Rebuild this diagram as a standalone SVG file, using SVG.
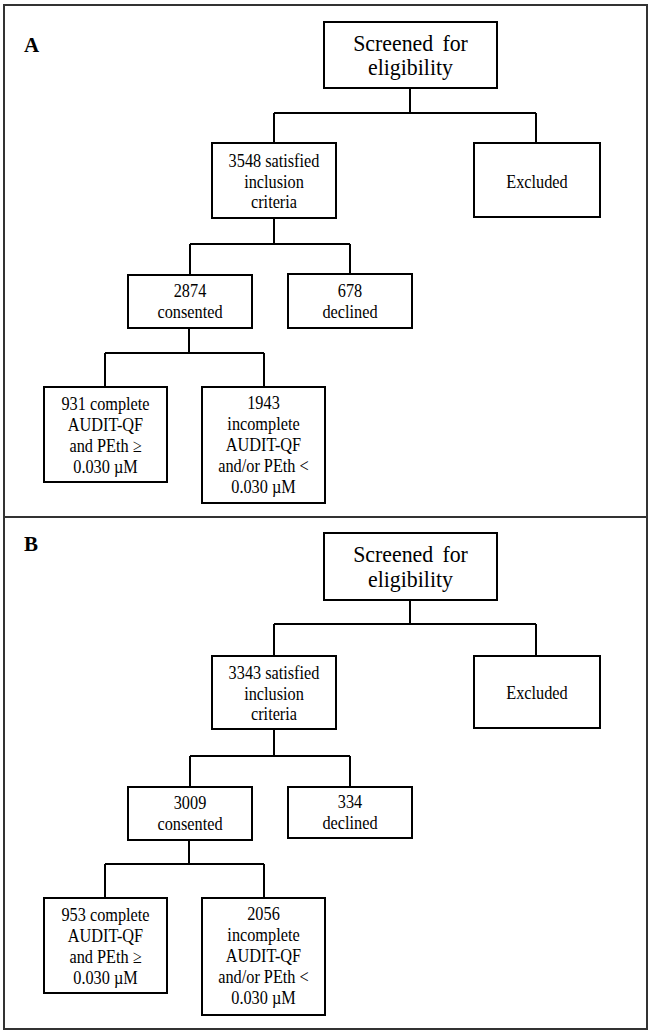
<svg xmlns="http://www.w3.org/2000/svg" width="650" height="1035" viewBox="0 0 650 1035">
<style>
.box{fill:#fff;stroke:#000;stroke-width:2}
.frame{fill:none;stroke:#333;stroke-width:2}
.con{fill:none;stroke:#000;stroke-width:2}
text{font-family:"Liberation Serif","Times New Roman",serif;fill:#000;text-anchor:middle}
.t{font-size:18.5px}
.big{font-size:23.5px;word-spacing:4px}
.lab{font-size:21px;font-weight:bold;text-anchor:start}
</style>
<rect width="650" height="1035" fill="#fff"/>
<g id="frames">
<rect class="frame" x="4" y="5" width="643" height="512"/>
<rect class="frame" x="4" y="517" width="643" height="512"/>
</g>
<g id="panelA">
<text class="lab" x="24" y="52">A</text>
<g id="connectorsA">
<path class="con" d="M410 88V113M274 113H536M274 113V143M536 113V143"/>
<path class="con" d="M274 218V244M190 244H350M190 244V275M350 244V274"/>
<path class="con" d="M189 328V353M105 353H264M105 353V387M264 353V387"/>
</g>
<g id="a-screened"><rect class="box" x="324" y="22" width="173" height="66"/><g transform="translate(410.5 0) scale(0.93 1)"><text class="big" x="0" y="51">Screened for</text><text class="big" x="0" y="75">eligibility</text></g></g>
<g id="a-satisfied"><rect class="box" x="212" y="143" width="124" height="75"/><g transform="translate(274 0) scale(0.88 1)"><text class="t" x="0" y="167">3548 satisfied</text><text class="t" x="0" y="188">inclusion</text><text class="t" x="0" y="208">criteria</text></g></g>
<g id="a-excluded"><rect class="box" x="474" y="143" width="126" height="74"/><g transform="translate(537 0) scale(0.88 1)"><text class="t" x="0" y="188">Excluded</text></g></g>
<g id="a-consented"><rect class="box" x="128" y="275" width="124" height="53"/><g transform="translate(190 0) scale(0.88 1)"><text class="t" x="0" y="297">2874</text><text class="t" x="0" y="318">consented</text></g></g>
<g id="a-declined"><rect class="box" x="288" y="274" width="124" height="54"/><g transform="translate(350 0) scale(0.88 1)"><text class="t" x="0" y="297">678</text><text class="t" x="0" y="318">declined</text></g></g>
<g id="a-complete"><rect class="box" x="44" y="387" width="123" height="95"/><g transform="translate(105.5 0) scale(0.88 1)"><text class="t" x="0" y="410">931 complete</text><text class="t" x="0" y="431">AUDIT-QF</text><text class="t" x="0" y="452">and PEth ≥</text><text class="t" x="0" y="473">0.030 µM</text></g></g>
<g id="a-incomplete"><rect class="box" x="202" y="387" width="123" height="116"/><g transform="translate(263.5 0) scale(0.88 1)"><text class="t" x="0" y="409">1943</text><text class="t" x="0" y="430">incomplete</text><text class="t" x="0" y="451">AUDIT-QF</text><text class="t" x="0" y="472">and/or PEth &lt;</text><text class="t" x="0" y="493">0.030 µM</text></g></g>
</g>
<g id="panelB">
<text class="lab" x="24" y="551">B</text>
<g transform="translate(0 511)">
<g id="connectorsB">
<path class="con" d="M410 89V113M274 113H536M274 113V145M536 113V145"/>
<path class="con" d="M274 218V245M190 245H350M190 245V276M350 245V276"/>
<path class="con" d="M189 329V353M105 353H264M105 353V387M264 353V387"/>
</g>
<g id="b-screened"><rect class="box" x="324" y="22" width="173" height="67"/><g transform="translate(410.5 0) scale(0.93 1)"><text class="big" x="0" y="51">Screened for</text><text class="big" x="0" y="76">eligibility</text></g></g>
<g id="b-satisfied"><rect class="box" x="212" y="145" width="124" height="73"/><g transform="translate(274 0) scale(0.88 1)"><text class="t" x="0" y="168">3343 satisfied</text><text class="t" x="0" y="189">inclusion</text><text class="t" x="0" y="209">criteria</text></g></g>
<g id="b-excluded"><rect class="box" x="474" y="145" width="126" height="72"/><g transform="translate(537 0) scale(0.88 1)"><text class="t" x="0" y="188">Excluded</text></g></g>
<g id="b-consented"><rect class="box" x="128" y="276" width="124" height="53"/><g transform="translate(190 0) scale(0.88 1)"><text class="t" x="0" y="298">3009</text><text class="t" x="0" y="319">consented</text></g></g>
<g id="b-declined"><rect class="box" x="288" y="276" width="124" height="51"/><g transform="translate(350 0) scale(0.88 1)"><text class="t" x="0" y="297">334</text><text class="t" x="0" y="318">declined</text></g></g>
<g id="b-complete"><rect class="box" x="44" y="387" width="123" height="95"/><g transform="translate(105.5 0) scale(0.88 1)"><text class="t" x="0" y="410">953 complete</text><text class="t" x="0" y="431">AUDIT-QF</text><text class="t" x="0" y="452">and PEth ≥</text><text class="t" x="0" y="473">0.030 µM</text></g></g>
<g id="b-incomplete"><rect class="box" x="202" y="387" width="123" height="117"/><g transform="translate(263.5 0) scale(0.88 1)"><text class="t" x="0" y="409">2056</text><text class="t" x="0" y="430">incomplete</text><text class="t" x="0" y="451">AUDIT-QF</text><text class="t" x="0" y="472">and/or PEth &lt;</text><text class="t" x="0" y="493">0.030 µM</text></g></g>
</g>
</g>
</svg>
